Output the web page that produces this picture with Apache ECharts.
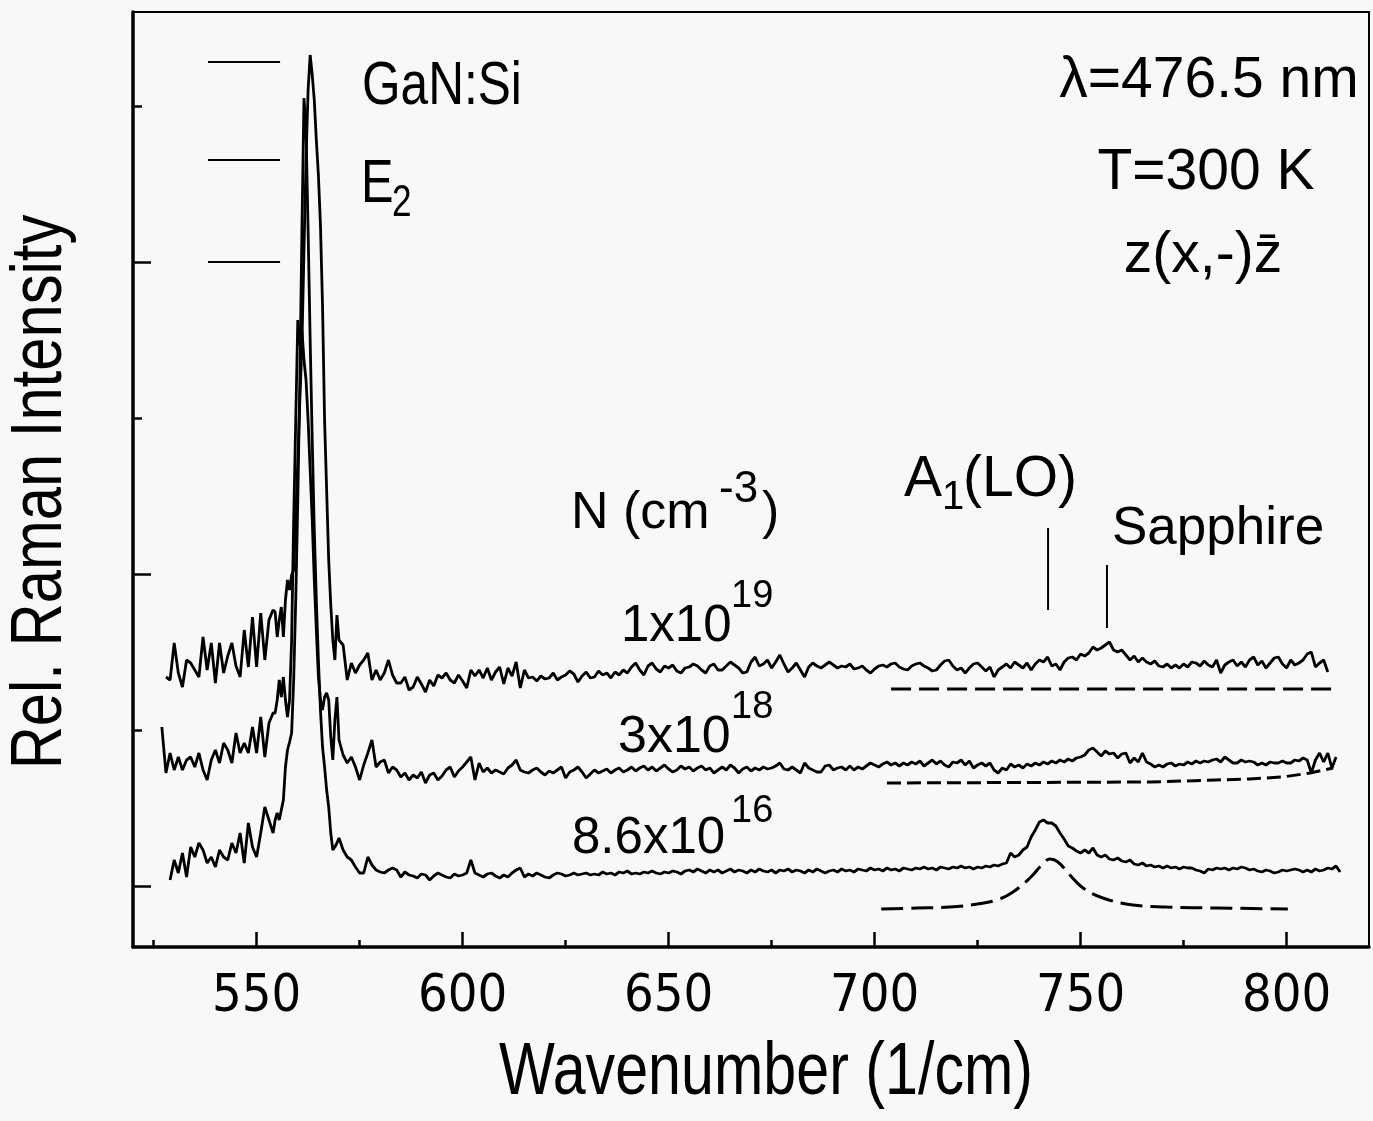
<!DOCTYPE html>
<html>
<head>
<meta charset="utf-8">
<title>GaN:Si Raman spectra</title>
<script src="https://cdn.jsdelivr.net/npm/echarts@6/dist/echarts.min.js"></script>
<style>
  html, body { margin: 0; padding: 0; background: #f8f8f8; }
  #chart { width: 1373px; height: 1121px; }
</style>
</head>
<body>
<div id="chart"></div>
<script>
// Wavenumber grid (1/cm): 1 step off the peak, 0.5 step across the E2 peak
const wnLeft = [527, 528, 529, 530, 531, 532, 533, 534, 535, 536, 537, 538, 539, 540, 541, 542, 543, 544, 545, 546, 547, 548, 549, 550, 551, 552, 553, 554];
const wnPeak = [554.5, 555, 555.5, 556, 556.5, 557, 557.5, 558, 558.5, 559, 559.5, 560, 560.5, 561, 561.5, 562, 562.5, 563, 563.5, 564, 564.5, 565, 565.5, 566, 566.5, 567, 567.5, 568, 568.5, 569, 569.5, 570];
const wnRight = [
  571, 572, 573, 574, 575, 576, 577, 578, 579, 580,
  581, 582, 583, 584, 585, 586, 587, 588, 589, 590,
  591, 592, 593, 594, 595, 596, 597, 598, 599, 600,
  601, 602, 603, 604, 605, 606, 607, 608, 609, 610,
  611, 612, 613, 614, 615, 616, 617, 618, 619, 620,
  621, 622, 623, 624, 625, 626, 627, 628, 629, 630,
  631, 632, 633, 634, 635, 636, 637, 638, 639, 640,
  641, 642, 643, 644, 645, 646, 647, 648, 649, 650,
  651, 652, 653, 654, 655, 656, 657, 658, 659, 660,
  661, 662, 663, 664, 665, 666, 667, 668, 669, 670,
  671, 672, 673, 674, 675, 676, 677, 678, 679, 680,
  681, 682, 683, 684, 685, 686, 687, 688, 689, 690,
  691, 692, 693, 694, 695, 696, 697, 698, 699, 700,
  701, 702, 703, 704, 705, 706, 707, 708, 709, 710,
  711, 712, 713, 714, 715, 716, 717, 718, 719, 720,
  721, 722, 723, 724, 725, 726, 727, 728, 729, 730,
  731, 732, 733, 734, 735, 736, 737, 738, 739, 740,
  741, 742, 743, 744, 745, 746, 747, 748, 749, 750,
  751, 752, 753, 754, 755, 756, 757, 758, 759, 760,
  761, 762, 763, 764, 765, 766, 767, 768, 769, 770,
  771, 772, 773, 774, 775, 776, 777, 778, 779, 780,
  781, 782, 783, 784, 785, 786, 787, 788, 789, 790,
  791, 792, 793, 794, 795, 796, 797, 798, 799, 800,
  801, 802, 803, 804, 805, 806, 807, 808, 809, 810,
  811, 812, 813
];

// Spectra, offset vertically as in the figure (arbitrary units)
// N = 1x10^19 cm^-3 (top trace)
const spec1e19 = [
  // 527..554
  null, 209, 206, 243, 213, 199, 226, 223, 216, 209, 249, 216, 243, 203, 243, 213, 230, 243, 220, 209, 256, 219, 269, 219, 273, 226, 266, 276,
  // 554.5..570
  274, 249, 266, 279, 249, 286, 306, 296, 311, 316, 366, 426, 486, 541, 636, 726, 796, 831, 811, 786, 746, 711, 661, 581, 466, 396, 326, 281, 246, 226, 271, 246,
  // 571..813
  241, 206, 223, 213, 221, 226, 233, 206, 216, 206,
  213, 226, 211, 203, 203, 209, 196, 199, 209, 202,
  194, 206, 200, 211, 208, 213, 206, 203, 211, 205,
  198, 216, 210, 216, 208, 218, 206, 214, 219, 202,
  218, 210, 224, 198, 216, 208, 209, 205, 210, 207,
  208, 213, 206, 209, 211, 215, 212, 204, 210, 214,
  208, 209, 215, 211, 213, 208, 214, 211, 216, 213,
  219, 223, 216, 211, 220, 223, 217, 214, 220, 218,
  221, 215, 213, 218, 219, 222, 220, 216, 213, 220,
  222, 216, 216, 220, 224, 221, 218, 213, 214, 224,
  229, 220, 222, 226, 218, 224, 231, 222, 214, 218,
  223, 216, 209, 219, 223, 220, 218, 221, 224, 221,
  218, 220, 219, 222, 217, 218, 220, 216, 213, 217,
  220, 221, 219, 222, 223, 219, 217, 216, 220, 222,
  223, 220, 218, 215, 216, 221, 225, 226, 220, 216,
  218, 213, 218, 222, 223, 219, 215, 219, 209, 216,
  219, 222, 218, 224, 221, 218, 223, 216, 222, 226,
  224, 229, 220, 222, 216, 224, 228, 229, 226, 232,
  230, 233, 239, 236, 238, 241, 244, 236, 234, 236,
  231, 226, 230, 224, 228, 224, 222, 225, 220, 219,
  222, 218, 221, 218, 222, 219, 224, 223, 220, 225,
  221, 219, 226, 213, 221, 224, 226, 220, 224, 219,
  226, 229, 221, 225, 218, 223, 228, 229, 222, 218,
  226, 221, 223, 226, 232, 234, 219, 223, 226, 214,
  null, null, null
];
// N = 3x10^18 cm^-3 (middle trace)
const spec3e18 = [
  159, 113, 133, 116, 129, 116, 126, 129, 119, 133, 116, 106, 126, 136, 123, 143, 136, 123, 153, 133, 143, 133, 159, 133, 169, 129, 163, 173,
  173, 186, 206, 189, 209, 186, 169, 186, 246, 366, 466, 566, 541, 556, 526, 506, 466, 416, 366, 306, 256, 209, 186, 176, 189, 193, 186, 149, 126, 166, 189, 146,
  131, 123, 129, 119, 106, 121, 133, 146, 119, 124,
  126, 113, 119, 116, 109, 113, 106, 111, 108, 114,
  103, 111, 113, 106, 110, 116, 119, 109, 115, 119,
  124, 129, 106, 123, 114, 118, 113, 116, 114, 112,
  118, 121, 126, 116, 114, 113, 116, 118, 114, 111,
  115, 113, 116, 119, 108, 114, 116, 119, 114, 108,
  112, 116, 113, 115, 117, 113, 116, 118, 114, 116,
  119, 115, 118, 120, 116, 119, 115, 118, 121, 117,
  114, 116, 120, 117, 119, 115, 118, 120, 116, 118,
  113, 116, 119, 116, 121, 118, 113, 117, 119, 115,
  118, 116, 119, 117, 118, 120, 123, 117, 116, 119,
  116, 113, 123, 118, 116, 114, 114, 120, 121, 116,
  118, 119, 116, 120, 116, 119, 117, 120, 123, 121,
  119, 122, 124, 121, 123, 120, 123, 121, 124, 122,
  125, 120, 123, 126, 122, 125, 121, 119, 124, 123,
  126, 121, 125, 118, 121, 123, 120, 123, 116, 113,
  118, 116, 122, 119, 121, 118, 122, 120, 123, 121,
  124, 122, 125, 123, 126, 124, 127, 125, 128, 129,
  131, 136, 138, 134, 130, 135, 132, 133, 128, 132,
  133, 123, 128, 124, 133, 124, 122, 119, 121, 119,
  122, 123, 120, 122, 121, 124, 122, 125, 123, 125,
  124, 126, 127, 124, 129, 126, 123, 123, 126, 124,
  125, 124, 121, 123, 121, 124, 123, 123, 125, 123,
  123, 126, 125, 128, 126, 113, 126, 133, 124, 133,
  118, 129, null
];
// N = 8.6x10^16 cm^-3 (bottom trace)
const spec86e16 = [
  null, null, 6, 26, 13, 33, 9, 39, 29, 43, 36, 23, 29, 19, 36, 29, 26, 43, 33, 53, 23, 63, 39, 29, 53, 79, 66, 53,
  66, 73, 66, 76, 86, 119, 136, 144, 153, 206, 286, 386, 506, 656, 788, 756, 656, 546, 446, 356, 286, 226, 176, 139, 119, 96, 79, 53, 36, 39, 43, 48,
  36, 29, 26, 19, 13, 13, 29, 21, 16, 14,
  13, 16, 18, 16, 9, 14, 11, 10, 8, 12,
  11, 6, 10, 13, 11, 9, 8, 12, 10, 11,
  13, 26, 13, 11, 9, 12, 13, 10, 8, 11,
  9, 13, 16, 18, 9, 12, 10, 13, 11, 9,
  8, 11, 13, 12, 10, 11, 13, 11, 12, 13,
  11, 12, 11, 14, 12, 13, 11, 14, 13, 15,
  12, 13, 12, 14, 13, 15, 13, 12, 14, 13,
  15, 14, 12, 15, 16, 14, 17, 15, 13, 16,
  14, 16, 13, 15, 17, 14, 16, 15, 13, 16,
  14, 17, 15, 14, 16, 13, 16, 15, 17, 14,
  16, 15, 13, 16, 14, 17, 15, 13, 15, 16,
  14, 17, 15, 16, 14, 17, 16, 15, 18, 16,
  17, 15, 18, 16, 17, 15, 18, 17, 16, 18,
  17, 19, 17, 18, 16, 19, 18, 17, 19, 18,
  20, 18, 19, 17, 19, 18, 20, 19, 21, 20,
  22, 23, 33, 29, 31, 36, 39, 49, 56, 64,
  66, 63, 63, 60, 53, 47, 40, 38, 35, 33,
  36, 33, 38, 31, 29, 31, 27, 26, 28, 25,
  24, 26, 22, 21, 23, 20, 21, 19, 20, 18,
  20, 18, 19, 17, 19, 18, 18, 16, 15, 13,
  17, 16, 18, 17, 18, 16, 18, 17, 19, 18,
  16, 17, 15, 14, 16, 15, 13, 14, 16, 15,
  16, 17, 16, 14, 16, 14, 17, 15, 16, 18,
  17, 20, 14
];

// Dashed fits below each trace
const fit1e19X = [704, 812];
const fit1e19Y = [197, 197];
const fit3e18X = [703, 767, 783, 791, 799, 805.7, 811.3];
const fit3e18Y = [103, 104, 106, 107, 109, 113, 118];
const fit86e16X = [701.6, 710.3, 718.3, 724.9, 729.7, 733.6, 737.7, 740.6, 742.6, 744.5, 747.4, 750.6, 755.4, 762.7, 771, 783.1, 800.3];
const fit86e16Y = [-23, -22, -21, -18, -14, -6, 8, 21, 27, 24, 11, -2, -12, -19, -21, -22, -23];

// Mode markers (A1(LO) and sapphire) and the short reference bars at top left
const a1LoX = 742.1, a1LoY = [358, 276];
const sapphireX = 756.4, sapphireY = [321, 258];
const refBarX = [538.2, 555.7];
const refBarY = [824, 726, 624];

// Axis ticks
const xMajorTicks = [550, 600, 650, 700, 750, 800];
const xMinorTicks = [525, 575, 625, 675, 725, 775];
const yLongTicks = [0, 312, 624];
const yShortTicks = [156, 468, 780];

const wn = wnLeft.concat(wnPeak, wnRight);
const pairs = (xs, ys) => xs.map((x, i) => [x, ys[i]]);

const COND = '"DejaVu Sans Condensed", "Liberation Sans Narrow", sans-serif';
const SANS = '"Liberation Sans", Arial, Helvetica, sans-serif';

const chart = echarts.init(document.getElementById('chart'));

const lineSeries = (data, extra) => Object.assign({
  type: 'line',
  data: data,
  symbol: 'none',
  silent: true,
  connectNulls: false,
  lineStyle: { color: '#000', width: 2.8 },
  z: 3
}, extra || {});

// annotation text; sx < 1 squeezes Liberation Sans into a narrow face
const txt = (text, x, y, size, align, sx, rot) => ({
  type: 'text',
  x: x,
  y: y,
  scaleX: sx || 1,
  rotation: rot || 0,
  style: {
    text: text,
    font: size + 'px ' + SANS,
    fill: '#000',
    align: align || 'left',
    verticalAlign: 'middle'
  },
  z: 10
});

const option = {
  backgroundColor: '#f8f8f8',
  animation: false,
  grid: {
    left: 133, right: 4, top: 12, bottom: 174,
    show: true, borderColor: '#000', borderWidth: 2
  },
  xAxis: [
    {
      type: 'value', min: 520, max: 820,
      axisLine: { onZero: false, lineStyle: { color: '#000', width: 3.5 } },
      axisTick: { inside: true, length: 15, lineStyle: { color: '#000', width: 2.5 }, customValues: xMajorTicks },
      axisLabel: { customValues: xMajorTicks, color: '#000', fontSize: 52, fontFamily: COND, margin: 24 },
      splitLine: { show: false }
    },
    {
      type: 'value', min: 520, max: 820, position: 'bottom',
      axisLine: { show: false, onZero: false },
      axisTick: { inside: true, length: 7, lineStyle: { color: '#000', width: 2.5 }, customValues: xMinorTicks },
      axisLabel: { show: false },
      splitLine: { show: false }
    }
  ],
  yAxis: [
    {
      type: 'value', min: -61, max: 874,
      axisLine: { show: true, onZero: false, lineStyle: { color: '#000', width: 3.5 } },
      axisTick: { show: true, inside: true, length: 18, lineStyle: { color: '#000', width: 2.5 }, customValues: yLongTicks },
      axisLabel: { show: false },
      splitLine: { show: false }
    },
    {
      type: 'value', min: -61, max: 874, position: 'left',
      axisLine: { show: false, onZero: false },
      axisTick: { show: true, inside: true, length: 9, lineStyle: { color: '#000', width: 2.5 }, customValues: yShortTicks },
      axisLabel: { show: false },
      splitLine: { show: false }
    }
  ],
  series: [
    lineSeries(pairs(wn, spec1e19)),
    lineSeries(pairs(wn, spec3e18)),
    lineSeries(pairs(wn, spec86e16)),
    lineSeries(pairs(fit1e19X, fit1e19Y), { lineStyle: { color: '#000', width: 3, type: [20, 8] } }),
    lineSeries(pairs(fit3e18X, fit3e18Y), { lineStyle: { color: '#000', width: 3, type: [14, 6] } }),
    lineSeries(pairs(fit86e16X, fit86e16Y), { smooth: 0.4, lineStyle: { color: '#000', width: 3, type: [22, 8] } }),
    lineSeries([[a1LoX, a1LoY[0]], [a1LoX, a1LoY[1]]], { lineStyle: { color: '#000', width: 2 } }),
    lineSeries([[sapphireX, sapphireY[0]], [sapphireX, sapphireY[1]]], { lineStyle: { color: '#000', width: 2 } })
  ].concat(refBarY.map(y => lineSeries([[refBarX[0], y], [refBarX[1], y]], { lineStyle: { color: '#000', width: 2 } }))),
  graphic: [
    // axis titles
    txt('Wavenumber (1/cm)', 766, 1074, 74, 'center', 0.8),
    txt('Rel. Raman Intensity', 41, 492, 72, 'center', 0.83, Math.PI / 2),
    // annotations
    txt('GaN:Si', 362, 87, 62, 'left', 0.8),
    txt('E', 361, 185, 61, 'left', 0.8),
    txt('2', 392, 204, 44, 'left', 0.8),
    txt('λ=476.5 nm', 1209, 81, 57, 'center'),
    txt('T=300 K', 1206, 173, 57, 'center'),
    txt('z(x,-)z\u0304', 1203, 256, 57, 'center'),
    txt('N (cm', 571, 514, 52),
    txt('-3', 719, 490, 44),
    txt(')', 762, 514, 52),
    txt('1x10', 621, 627, 51),
    txt('19', 731, 597, 38),
    txt('3x10', 618, 738, 52),
    txt('18', 731, 708, 38),
    txt('8.6x10', 572, 839, 51),
    txt('16', 731, 812, 38),
    txt('A', 904, 480, 57),
    txt('1', 942, 498, 40),
    txt('(LO)', 963, 480, 57),
    txt('Sapphire', 1112, 529, 53)
  ]
};

chart.setOption(option);
</script>
</body>
</html>
